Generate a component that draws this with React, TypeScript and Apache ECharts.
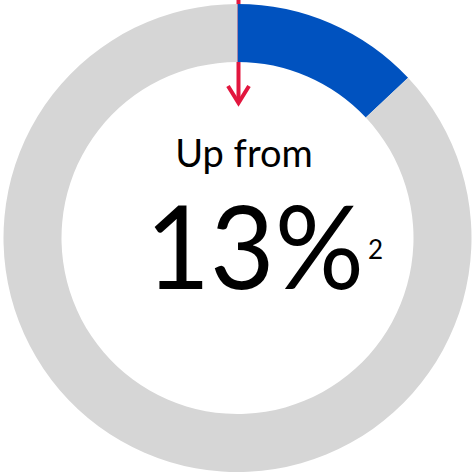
import React, { useEffect, useRef } from "react";
import * as echarts from "echarts";

const categories = ["Share", "Remainder"];
const values = [13, 87];
const colors = ["#0052BF", "#D6D6D6"];
const headline = "Up from";
const bigValue = "13%";
const footnote = "2";

export default function App() {
  const ref = useRef<HTMLDivElement>(null);
  useEffect(() => {
    if (!ref.current) return;
    const chart = echarts.init(ref.current, undefined, { renderer: "svg" });
    chart.setOption({
      animation: false,
      series: [
        {
          type: "pie",
          radius: [176, 234],
          center: [237.5, 238],
          startAngle: 90,
          clockwise: true,
          silent: true,
          label: { show: false },
          labelLine: { show: false },
          itemStyle: { borderWidth: 0 },
          data: categories.map((c, i) => ({ name: c, value: values[i], itemStyle: { color: colors[i] } })),
        },
      ],
      graphic: [
        { type: "line", shape: { x1: 238.5, y1: 0, x2: 238.5, y2: 102 }, style: { stroke: "#E2163E", lineWidth: 4 } },
        { type: "polyline", shape: { points: [[228, 86], [238.5, 103], [249, 86]] }, style: { stroke: "#E2163E", lineWidth: 4, fill: null } },
        { type: "text", x: 244, y: 152, style: { text: headline, font: "38px Lato", fill: "#000", textAlign: "center", textVerticalAlign: "middle" } },
        { type: "text", x: 145.5, y: 244, scaleX: 0.96, style: { text: bigValue, font: "116px Lato", fill: "#000", textAlign: "left", textVerticalAlign: "middle" } },
        { type: "text", x: 368, y: 249, style: { text: footnote, font: "26px Lato", fill: "#000", textAlign: "left", textVerticalAlign: "middle" } },
      ],
    });
    return () => chart.dispose();
  }, []);
  return <div ref={ref} style={{ width: 474, height: 476, position: "absolute", left: 0, top: 0 }} />;
}
